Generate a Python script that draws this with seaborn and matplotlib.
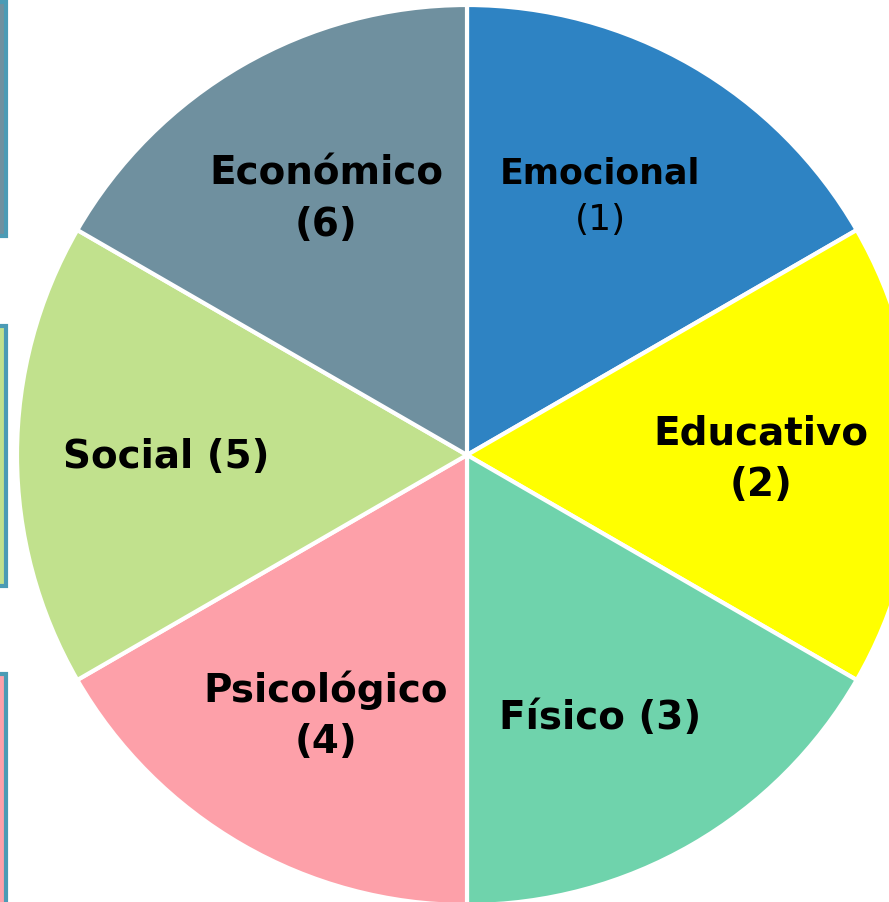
import numpy as np
import seaborn as sns
import matplotlib.pyplot as plt
from matplotlib.patches import Rectangle

# slices, clockwise from the top
categories = ['Emocional', 'Educativo', 'Físico', 'Psicológico', 'Social', 'Económico']
numbers = [1, 2, 3, 4, 5, 6]
shares = [1, 1, 1, 1, 1, 1]
slice_colors = ['#2e83c3', '#ffff00', '#6fd3ac', '#fda0a9', '#c1e18d', '#6f909f']

# partly visible boxes at the left edge
box_colors = ['#6f909f', '#c1e18d', '#fda0aa']

sns.set_style('white')
plt.rcParams['font.family'] = ['DejaVu Sans']
plt.rcParams['text.color'] = 'black'

fig = plt.figure(figsize=(8.89, 9.03), dpi=100)
ax = fig.add_axes([0, 0, 1, 1])

# pie drawn in pixel-like data units
ax.pie(shares, colors=slice_colors, startangle=90, counterclock=False,
       radius=450, center=(467, 447),
       wedgeprops=dict(edgecolor='white', linewidth=3))

fs = 28
ls = 1.45
# labels
ax.text(326, 704, 'Económico\n(6)', ha='center', va='center', fontsize=fs,
        fontweight='bold', linespacing=ls)
ax.text(600, 729, categories[0], ha='center', va='center', fontsize=25, fontweight='bold')
ax.text(600, 683, '(1)', ha='center', va='center', fontsize=26)
ax.text(761, 444, 'Educativo\n(2)', ha='center', va='center', fontsize=fs,
        fontweight='bold', linespacing=ls)
ax.text(600, 185, 'Físico (3)', ha='center', va='center', fontsize=fs, fontweight='bold')
ax.text(326, 187, 'Psicológico\n(4)', ha='center', va='center', fontsize=fs,
        fontweight='bold', linespacing=ls)
ax.text(166, 446, 'Social (5)', ha='center', va='center', fontsize=fs, fontweight='bold')

# left boxes
for (y0, y1), c in zip([(666, 900), (316, 576), (-20, 228)], box_colors):
    ax.add_patch(Rectangle((-20, y0), 25.5, y1 - y0, facecolor=c,
                           edgecolor='#4b9bb5', linewidth=3, clip_on=True))

ax.set_xlim(0, 889)
ax.set_ylim(0, 903)
ax.set_aspect('equal')
ax.axis('off')

fig.savefig('out.png', dpi=100)
